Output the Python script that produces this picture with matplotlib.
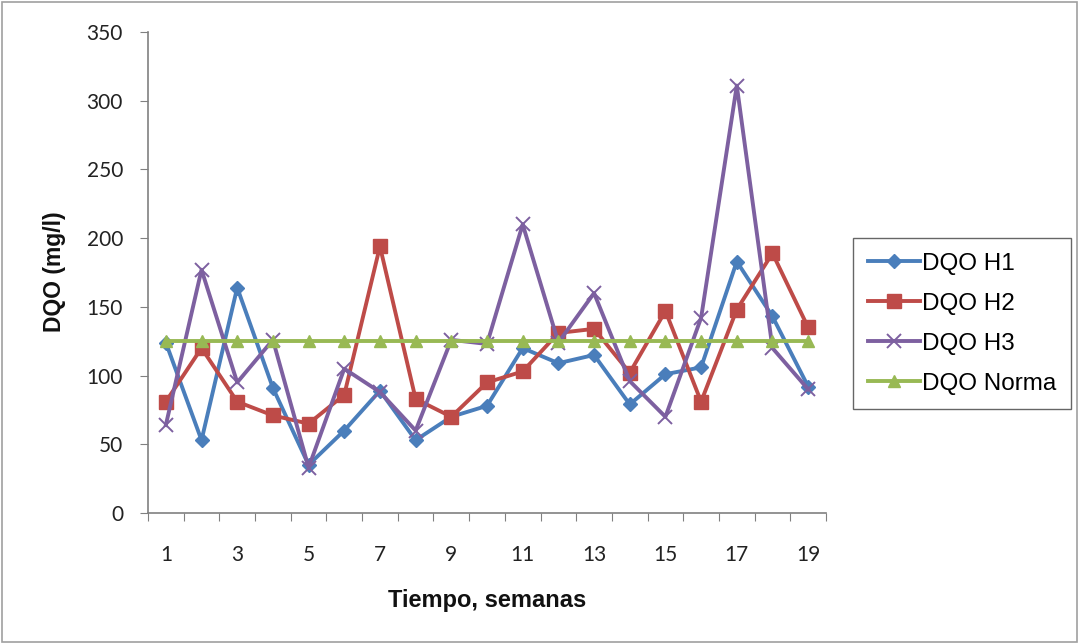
import matplotlib
matplotlib.use("Agg")
import matplotlib.pyplot as plt
from matplotlib.patches import Rectangle
import numpy as np

plt.rcParams['font.family'] = ['Lato', 'DejaVu Sans']

semanas = list(range(1, 20))
h1 = [124, 53, 164, 91, 35, 60, 89, 53, 70, 78, 120, 109, 115, 79, 101, 106, 183, 143, 92]
h2 = [81, 120, 81, 71, 65, 86, 194, 83, 70, 95, 103, 131, 134, 102, 147, 81, 148, 189, 135]
h3 = [64, 177, 95, 126, 33, 105, 88, 60, 126, 123, 210, 124, 160, 96, 70, 142, 311, 120, 90]
norma = [125] * 19
labels = ["DQO H1", "DQO H2", "DQO H3", "DQO Norma"]
colors = ["#4A7EBB", "#BE4B48", "#7D60A0", "#98B954"]

W, H = 1079, 644
fig = plt.figure(figsize=(W / 100, H / 100), dpi=100)
ax = fig.add_axes([148 / W, 1 - 513 / H, (826 - 148) / W, (513 - 32) / H])

ax.plot(semanas, h1, color=colors[0], lw=2.8, marker="D", ms=7.5, label=labels[0])
ax.plot(semanas, h2, color=colors[1], lw=2.8, marker="s", ms=10, label=labels[1])
ax.plot(semanas, h3, color=colors[2], lw=2.8, marker="x", ms=10.5, mew=1.4, label=labels[2])
ax.plot(semanas, norma, color=colors[3], lw=2.8, marker="^", ms=8.5, label=labels[3])

ax.set_xlim(0.5, 19.5)
ax.set_ylim(0, 350)
ax.set_yticks(np.arange(0, 351, 50))
ax.set_xticks(np.arange(0.5, 19.6, 1))
ax.set_xticklabels([])
ax.set_xticks(semanas[::2], minor=True)
ax.set_xticklabels([str(s) for s in semanas[::2]], minor=True)
ax.tick_params(axis="x", which="major", length=6, color="#808080", direction="out")
ax.tick_params(axis="x", which="minor", length=0, pad=23, labelsize=15, labelcolor="#222222")
ax.tick_params(axis="y", length=6, color="#808080", labelsize=15, pad=12, labelcolor="#222222")
for s in ["top", "right"]:
    ax.spines[s].set_visible(False)
for s in ["left", "bottom"]:
    ax.spines[s].set_color("#808080")
    ax.spines[s].set_linewidth(1.2)

fig.text(54 / W, 1 - 272 / H, "DQO (mg/l)", rotation=90, ha="center", va="center",
         family="Liberation Sans", fontsize=16.5, fontweight="bold", color="#111111")
fig.text(487 / W, 1 - 600 / H, "Tiempo, semanas", ha="center", va="center",
         family="Liberation Sans", fontsize=17, fontweight="bold", color="#111111")

leg = fig.legend(loc="upper left", bbox_to_anchor=(853 / W, 1 - 238 / H),
                 prop={"family": "Liberation Sans", "size": 17.5},
                 frameon=True, fancybox=False, borderpad=0.6,
                 labelspacing=0.74, handlelength=2.15, handletextpad=0.1,
                 borderaxespad=0)
leg.get_frame().set_edgecolor("#404040")
leg.get_frame().set_linewidth(1.0)

fig.patches.append(Rectangle((2 / W, 2 / H), 1 - 4 / W, 1 - 4 / H, transform=fig.transFigure,
                             fill=False, edgecolor="#A0A0A0", lw=1.2))

fig.savefig("out.png", dpi=100)
